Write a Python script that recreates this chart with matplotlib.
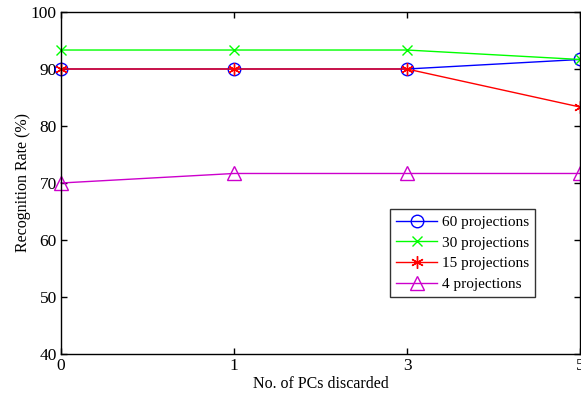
import matplotlib
matplotlib.use("Agg")
import matplotlib.pyplot as plt

plt.rcParams['font.family'] = ['Liberation Serif', 'DejaVu Serif']
plt.rcParams['mathtext.fontset'] = 'stix'

x_labels = ['0', '1', '3', '5']
series_names = ['60 projections', '30 projections', '15 projections', '4 projections']
p60 = [90.0, 90.0, 90.0, 91.67]
p30 = [93.33, 93.33, 93.33, 91.67]
p15 = [90.0, 90.0, 90.0, 83.33]
p4 = [70.0, 71.67, 71.67, 71.67]
y_ticks = [40, 50, 60, 70, 80, 90, 100]

W, H = 581, 398
fig = plt.figure(figsize=(W / 100, H / 100), dpi=100)
ax = fig.add_axes([61 / W, (H - 354) / H, (580 - 61) / W, (354 - 12) / H])

xs = list(range(len(x_labels)))
styles = [
    dict(color='#0000ff', marker='o', markerfacecolor='none', markersize=9, markeredgewidth=1),
    dict(color='#00ff00', marker='x', markersize=7, markeredgewidth=1),
    dict(color='#ff0000', marker=(6, 2, 0), markersize=9, markeredgewidth=1),
    dict(color='#cc00cc', marker='^', markerfacecolor='none', markersize=10, markeredgewidth=1),
]
for vals, name, st in zip([p60, p30, p15, p4], series_names, styles):
    ax.plot(xs, vals, lw=1, label=name, clip_on=False, **st)

ax.set_xlim(0, 3)
ax.set_ylim(40, 100)
ax.set_xticks(xs)
ax.set_xticklabels(x_labels)
ax.set_yticks(y_ticks)
ax.tick_params(direction='in', top=True, right=True, labelsize=12.5, length=4, width=1, pad=3)
ax.set_xlabel('No. of PCs discarded', fontsize=11.5, labelpad=1)
ax.set_ylabel('Recognition Rate (%)', fontsize=11.5, labelpad=0)
for s in ax.spines.values():
    s.set_linewidth(1)

leg = ax.legend(loc='lower left', bbox_to_anchor=((390 - 61) / (580 - 61), (354 - 297) / (354 - 12)),
                fontsize=11, frameon=True, fancybox=False, edgecolor='black',
                handlelength=2.7, borderpad=0.4, labelspacing=0.45, handletextpad=0.3,
                borderaxespad=0)
leg.get_frame().set_linewidth(1)

fig.savefig('out.png', dpi=100)
